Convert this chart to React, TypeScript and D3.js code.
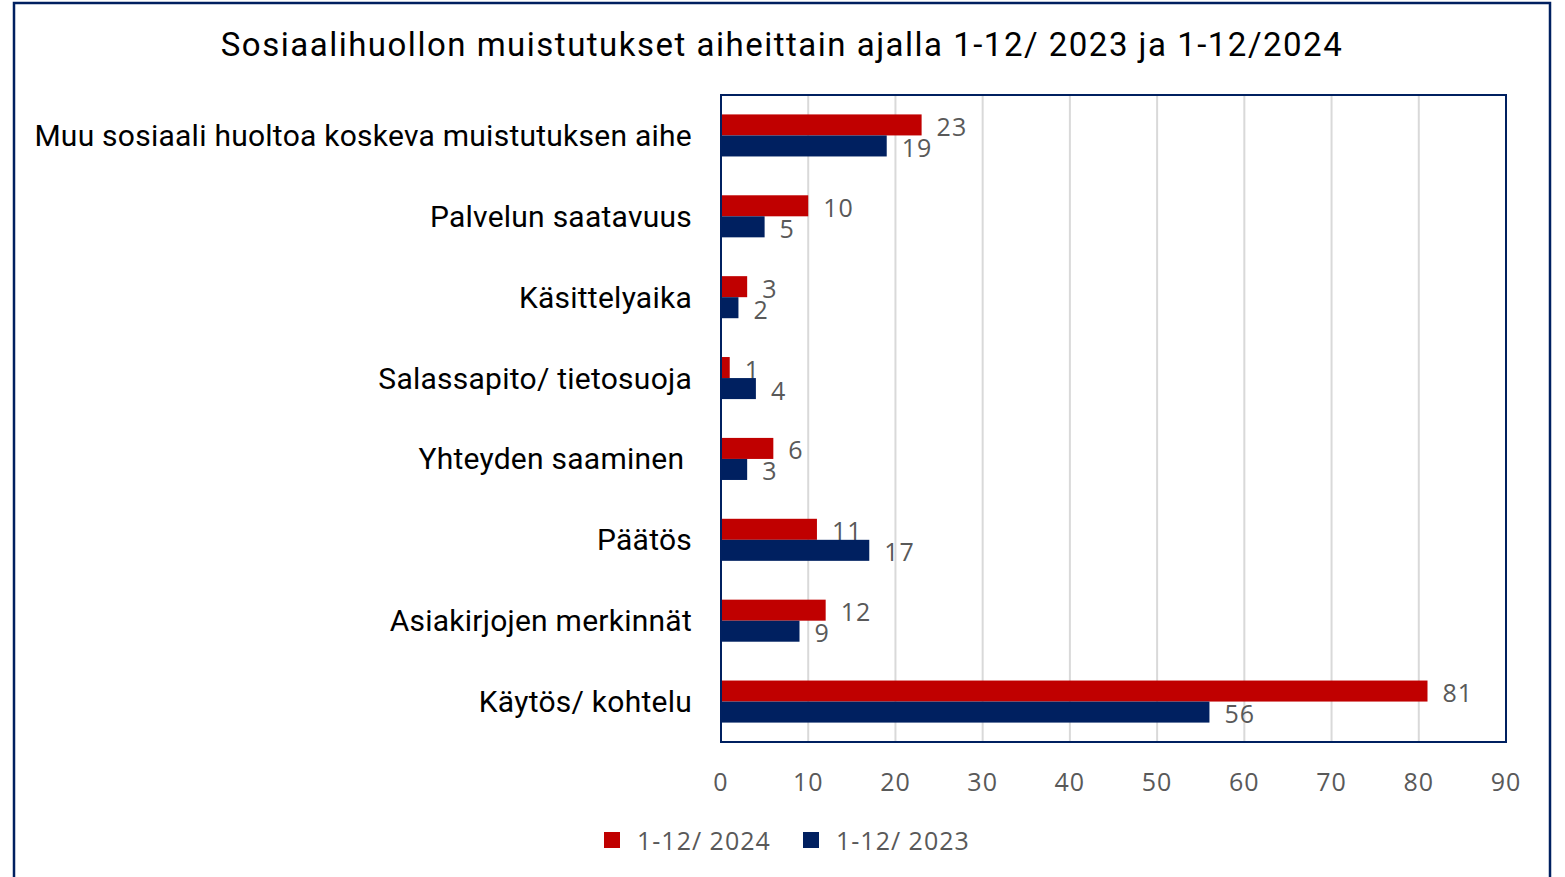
import React, { useRef, useEffect } from 'react';
import * as d3 from 'd3';

const categories = [
  'Muu sosiaali huoltoa koskeva muistutuksen aihe',
  'Palvelun saatavuus',
  'Käsittelyaika',
  'Salassapito/ tietosuoja',
  'Yhteyden saaminen ',
  'Päätös',
  'Asiakirjojen merkinnät',
  'Käytös/ kohtelu',
];
const values2024 = [23, 10, 3, 1, 6, 11, 12, 81];
const values2023 = [19, 5, 2, 4, 3, 17, 9, 56];
const xTicks = [0, 10, 20, 30, 40, 50, 60, 70, 80, 90];
const seriesNames = ['1-12/ 2024', '1-12/ 2023'];

const RED = '#c00000';
const BLUE = '#002060';
const GRAY_TEXT = '#595959';
const FONT = '"Open Sans", sans-serif';
const LABEL_FONT = 'Roboto, sans-serif';

function App(): React.ReactElement {
  const ref = useRef<HTMLDivElement | null>(null);

  useEffect(() => {
    if (!ref.current) return;
    const container = ref.current;
    const width = 1565;
    const height = 877;
    const plot = { left: 721, right: 1506, top: 95, bottom: 742 };

    d3.select(container).selectAll('*').remove();

    const svg = d3
      .select(container)
      .append('svg')
      .attr('width', width)
      .attr('height', height)
      .style('position', 'absolute')
      .style('left', 0)
      .style('top', 0)
      .style('background', '#fff');

    // outer frame
    svg
      .append('rect')
      .attr('x', 14)
      .attr('y', 3)
      .attr('width', 1536)
      .attr('height', 890)
      .attr('fill', 'none')
      .attr('stroke', BLUE)
      .attr('stroke-width', 2.5);

    svg
      .append('text')
      .attr('x', 782)
      .attr('y', 56)
      .attr('text-anchor', 'middle')
      .style('font-family', LABEL_FONT)
      .style('font-size', '33px')
      .style('letter-spacing', '1.5px')
      .style('fill', '#000')
      .text('Sosiaalihuollon muistutukset aiheittain ajalla 1-12/ 2023 ja 1-12/2024');

    const x = d3.scaleLinear().domain([0, 90]).range([plot.left, plot.right]);
    const y = d3.scaleBand().domain(categories).range([plot.top, plot.bottom]).paddingInner(0.48).paddingOuter(0.24);
    const sub = d3.scaleBand().domain(seriesNames).range([0, y.bandwidth()]);

    // gridlines
    svg
      .append('g')
      .selectAll('line')
      .data(xTicks.slice(1))
      .join('line')
      .attr('x1', d => x(d))
      .attr('x2', d => x(d))
      .attr('y1', plot.top)
      .attr('y2', plot.bottom)
      .attr('stroke', '#d9d9d9')
      .attr('stroke-width', 2);

    const series = [
      { name: seriesNames[0], values: values2024, color: RED },
      { name: seriesNames[1], values: values2023, color: BLUE },
    ];

    series.forEach(s => {
      const g = svg.append('g');
      g.selectAll('rect')
        .data(s.values)
        .join('rect')
        .attr('x', x(0))
        .attr('y', (_, i) => (y(categories[i]) as number) + (sub(s.name) as number))
        .attr('width', d => x(d) - x(0))
        .attr('height', sub.bandwidth())
        .attr('fill', s.color);
      g.selectAll('text')
        .data(s.values)
        .join('text')
        .attr('x', d => x(d) + 15)
        .attr('y', (_, i) => (y(categories[i]) as number) + (sub(s.name) as number) + sub.bandwidth() / 2 + 1)
        .attr('dominant-baseline', 'central')
        .style('font-family', FONT)
        .style('font-size', '25px')
        .style('letter-spacing', '1px')
        .style('fill', GRAY_TEXT)
        .text(d => d);
    });

    // plot frame
    svg
      .append('rect')
      .attr('x', plot.left)
      .attr('y', plot.top)
      .attr('width', plot.right - plot.left)
      .attr('height', plot.bottom - plot.top)
      .attr('fill', 'none')
      .attr('stroke', BLUE)
      .attr('stroke-width', 2);

    // category labels
    svg
      .append('g')
      .selectAll('text')
      .data(categories)
      .join('text')
      .attr('x', 692)
      .attr('y', d => (y(d) as number) + y.bandwidth() / 2)
      .attr('text-anchor', 'end')
      .attr('dominant-baseline', 'central')
      .attr('xml:space', 'preserve')
      .style('white-space', 'pre')
      .style('font-family', LABEL_FONT)
      .style('font-size', '30px')
      .style('letter-spacing', '0.25px')
      .style('fill', '#000')
      .text(d => d);

    // x tick labels
    svg
      .append('g')
      .selectAll('text')
      .data(xTicks)
      .join('text')
      .attr('x', d => x(d))
      .attr('y', 781)
      .attr('text-anchor', 'middle')
      .attr('dominant-baseline', 'central')
      .style('font-family', FONT)
      .style('font-size', '25px')
      .style('letter-spacing', '1px')
      .style('fill', GRAY_TEXT)
      .text(d => d);

    // legend
    const legendX = [604, 803];
    series.forEach((s, i) => {
      svg
        .append('rect')
        .attr('x', legendX[i])
        .attr('y', 832)
        .attr('width', 16)
        .attr('height', 16)
        .attr('fill', s.color);
      svg
        .append('text')
        .attr('x', legendX[i] + 33)
        .attr('y', 840)
        .attr('dominant-baseline', 'central')
        .style('font-family', FONT)
        .style('font-size', '25px')
        .style('letter-spacing', '1px')
        .style('fill', GRAY_TEXT)
        .text(s.name);
    });
  }, []);

  return <div ref={ref} style={{ width: 1565, height: 877 }} />;
}

export default App;
